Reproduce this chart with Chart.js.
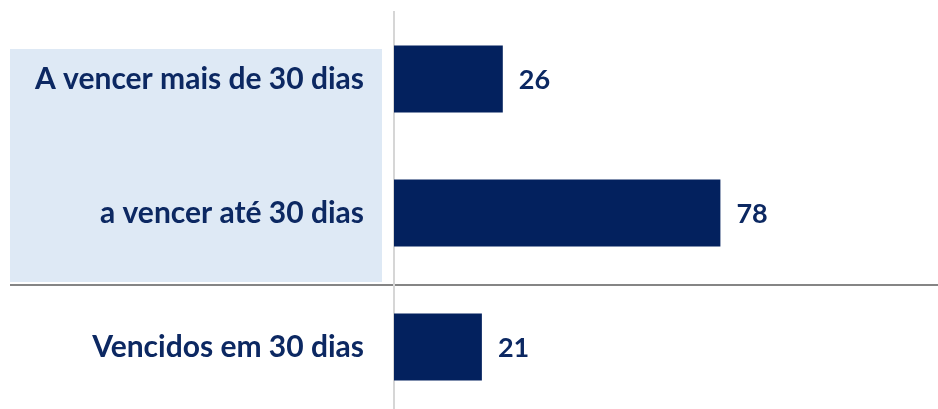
<!DOCTYPE html>
<html>
<head>
<meta charset="utf-8">
<script src="https://cdn.jsdelivr.net/npm/chart.js@4/dist/chart.umd.min.js"></script>
<style>
  html, body { margin: 0; padding: 0; background: #fff; overflow: hidden; }
  #wrap { width: 938px; height: 414px; position: relative; }
</style>
</head>
<body>
<div id="wrap"><canvas id="chart"></canvas></div>
<script>
// Données
const categories = ["A vencer mais de 30 dias", "a vencer até 30 dias", "Vencidos em 30 dias"];
const valeurs = [26, 78, 21];

const navy = "#03215E";
const texte = "#0C2862";

// Fond bleu clair + ligne de séparation (avant les axes)
const decorPlugin = {
  id: "decor",
  beforeDraw(chart) {
    const { ctx } = chart;
    const y = chart.scales.y;
    const c0 = y.getPixelForValue(0);
    const c1 = y.getPixelForValue(1);
    const c2 = y.getPixelForValue(2);
    const sep = (c1 + c2) / 2 + 5;
    ctx.save();
    ctx.fillStyle = "#DEE9F5";
    ctx.fillRect(10, c0 - 30, 372, sep - 3 - (c0 - 30));
    ctx.strokeStyle = "#858585";
    ctx.lineWidth = 2;
    ctx.beginPath();
    ctx.moveTo(10, sep);
    ctx.lineTo(chart.width, sep);
    ctx.stroke();
    ctx.restore();
  },
};

// Étiquettes de valeur à droite des barres
const valuePlugin = {
  id: "valeurs",
  afterDatasetsDraw(chart) {
    const { ctx } = chart;
    const meta = chart.getDatasetMeta(0);
    ctx.save();
    ctx.font = "bold 27px Lato";
    ctx.fillStyle = texte;
    ctx.textAlign = "left";
    ctx.textBaseline = "middle";
    meta.data.forEach((bar, i) => {
      ctx.fillText(valeurs[i], bar.x + 16, bar.y + 1);
    });
    ctx.restore();
  },
};

new Chart(document.getElementById("chart"), {
  type: "bar",
  data: {
    labels: categories,
    datasets: [
      {
        data: valeurs,
        backgroundColor: navy,
        categoryPercentage: 0.5,
        barPercentage: 1,
      },
    ],
  },
  options: {
    indexAxis: "y",
    responsive: true,
    maintainAspectRatio: false,
    animation: false,
    layout: { padding: { top: 12, left: 0, right: 0, bottom: 0 } },
    plugins: { legend: { display: false }, tooltip: { enabled: false } },
    scales: {
      x: { display: false, min: 0, max: 130 },
      y: {
        afterFit: (s) => {
          s.width = 394;
          s.paddingTop = 0;
          s.paddingBottom = 0;
        },
        grid: { color: "transparent", drawTicks: true, tickLength: 30 },
        border: { display: true, color: "#D6D6D6", width: 2 },
        ticks: {
          padding: 0,
          color: texte,
          font: { family: "Lato", weight: "bold", size: 30 },
        },
      },
    },
  },
  plugins: [decorPlugin, valuePlugin],
});
</script>
</body>
</html>
